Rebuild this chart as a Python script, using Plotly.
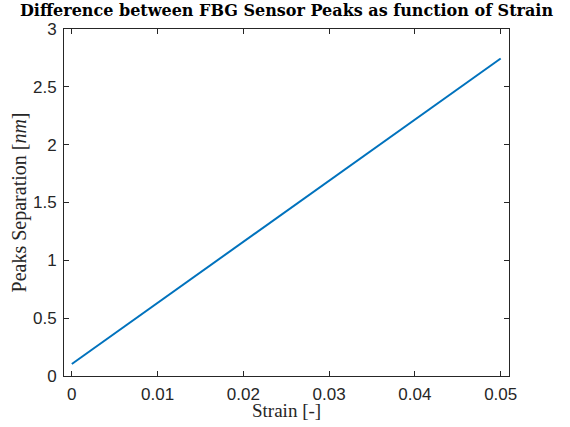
import plotly.graph_objects as go

strain = [0.0, 0.05]
separation = [0.104, 2.745]

x_ticks = [0, 0.01, 0.02, 0.03, 0.04, 0.05]
x_labels = ["0", "0.01", "0.02", "0.03", "0.04", "0.05"]
y_ticks = [0, 0.5, 1, 1.5, 2, 2.5, 3]
y_labels = ["0", "0.5", "1", "1.5", "2", "2.5", "3"]

fig = go.Figure()
fig.add_trace(go.Scatter(x=strain, y=separation, mode="lines",
                         line=dict(color="#0072BD", width=2), showlegend=False))

axcommon = dict(showline=True, linecolor="#262626", linewidth=1, mirror="ticks",
                ticks="inside", tickcolor="#262626", ticklen=5, showgrid=False,
                zeroline=False, automargin=False,
                tickfont=dict(family="Liberation Sans, Arial", size=17, color="#262626"))

fig.update_xaxes(range=[-0.00091, 0.05097], tickvals=x_ticks, ticktext=x_labels,
                 ticklabelstandoff=3, **axcommon)
fig.update_yaxes(range=[0, 3], tickvals=y_ticks, ticktext=y_labels,
                 ticklabelstandoff=3, **axcommon)

fig.add_annotation(text="Strain [-]", xref="paper", yref="paper", x=0.5, y=-0.098,
                   xanchor="center", yanchor="middle", showarrow=False,
                   font=dict(family="Liberation Serif, serif", size=19, color="#262626"))
fig.add_annotation(text="Peaks Separation [<i>nm</i>]", xref="paper", yref="paper",
                   x=-0.099, y=0.5, xanchor="center", yanchor="middle", textangle=-90,
                   showarrow=False, font=dict(family="Liberation Serif, serif", size=20, color="#262626"))

fig.update_layout(
    width=570, height=427,
    margin=dict(l=64, r=61, t=29, b=51),
    plot_bgcolor="white", paper_bgcolor="white",
    title=dict(text="<b>Difference between FBG Sensor Peaks as function of Strain</b>",
               x=0.5, xref="paper", xanchor="center", y=1, yref="container", yanchor="top", pad=dict(t=5),
               font=dict(family="DejaVu Serif, serif", size=16, color="black")),
)

fig.write_html("out.html")
